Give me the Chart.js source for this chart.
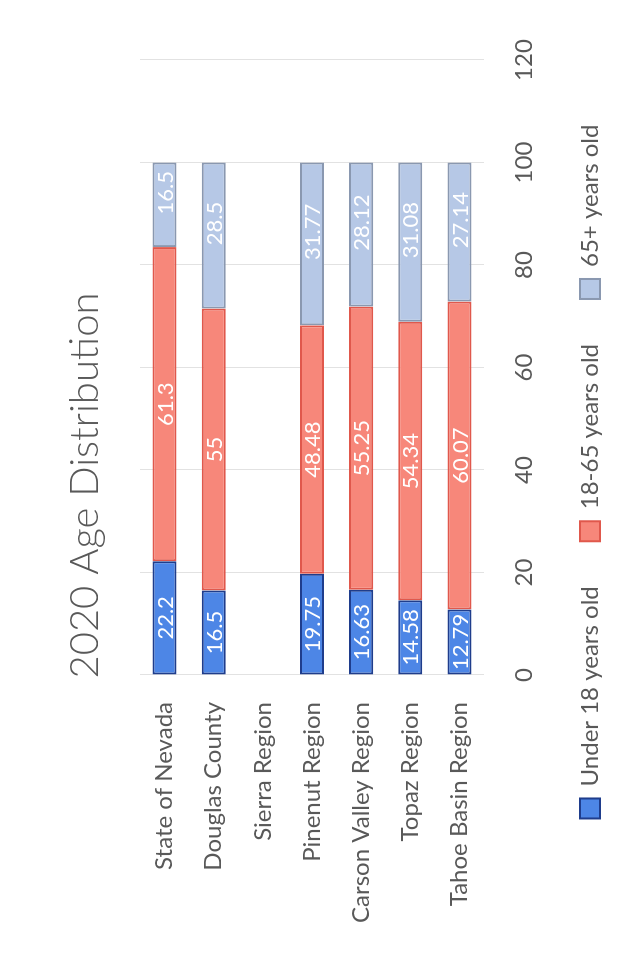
<!doctype html>
<html lang="en">

<head>
    <meta charset="utf-8">
    <title>2020 Age Distribution</title>
    <script src="https://cdn.jsdelivr.net/npm/chart.js"></script>
    <style>
        html, body { margin: 0; padding: 0; background: #fff; overflow: hidden; }
        /* chart is laid out landscape, then turned to read bottom-to-top */
        #frame {
            position: absolute; left: 0; top: 0;
            width: 963px; height: 636px;
            transform-origin: 0 0;
            transform: translate(0, 963px) rotate(-90deg);
        }
    </style>
</head>

<body>
    <div id="frame">
        <canvas id="ageChart" width="963" height="636"></canvas>
    </div>

    <script>
        const regions = ['State of Nevada', 'Douglas County', 'Sierra Region', 'Pinenut Region',
            'Carson Valley Region', 'Topaz Region', 'Tahoe Basin Region'];
        const under18 = [22.2, 16.5, null, 19.75, 16.63, 14.58, 12.79];
        const age18to65 = [61.3, 55, null, 48.48, 55.25, 54.34, 60.07];
        const age65plus = [16.5, 28.5, null, 31.77, 28.12, 31.08, 27.14];
        const seriesNames = ['Under 18 years old', '18-65 years old', '65+ years old'];
        const tickValues = [0, 20, 40, 60, 80, 100, 120];

        const grey = '#595959';
        const font = 'Lato, "Open Sans", sans-serif';

        // white value text inside each segment (65+ text sits a bit toward the bar end)
        const segmentLabels = {
            id: 'segmentLabels',
            afterDatasetsDraw(chart) {
                const ctx = chart.ctx;
                ctx.save();
                ctx.fillStyle = '#ffffff';
                ctx.font = '22px ' + font;
                ctx.textAlign = 'center';
                ctx.textBaseline = 'middle';
                chart.data.datasets.forEach((ds, i) => {
                    const nudge = i === 2 ? 12 : 0;
                    chart.getDatasetMeta(i).data.forEach((bar, j) => {
                        const v = ds.data[j];
                        if (v === null || v === undefined) return;
                        ctx.fillText(String(v), (bar.x + bar.base) / 2 + nudge, bar.y + 1);
                    });
                });
                ctx.restore();
            }
        };

        // title and legend are centred on the whole canvas, not on the padded box
        const blockShift = {
            id: 'blockShift',
            afterLayout(chart) {
                chart.titleBlock.left += 26;
                chart.titleBlock.right += 26;
                chart.legend.left += 40;
                chart.legend.right += 40;
            }
        };

        new Chart(document.getElementById('ageChart').getContext('2d'), {
            type: 'bar',
            data: {
                labels: regions,
                datasets: [{
                    label: seriesNames[0],
                    data: under18,
                    backgroundColor: '#4d86e6',
                    borderColor: '#1f3d8c'
                }, {
                    label: seriesNames[1],
                    data: age18to65,
                    backgroundColor: '#f7877a',
                    borderColor: '#e0584c'
                }, {
                    label: seriesNames[2],
                    data: age65plus,
                    backgroundColor: '#b6c8e6',
                    borderColor: '#8a98b0'
                }]
            },
            options: {
                indexAxis: 'y',
                responsive: false,
                animation: false,
                datasets: {
                    bar: {
                        borderWidth: 2,
                        borderSkipped: false,
                        barPercentage: 0.5,
                        categoryPercentage: 0.98
                    }
                },
                layout: {
                    padding: { top: 0, left: 0, right: 60, bottom: 24 }
                },
                scales: {
                    x: {
                        stacked: true,
                        min: 0,
                        max: 120,
                        afterBuildTicks(scale) {
                            scale.ticks = tickValues.map(v => ({ value: v }));
                        },
                        afterFit(scale) { scale.height = 49; },
                        grid: { color: '#e2e2e2', lineWidth: 1, drawTicks: false },
                        border: { display: false },
                        ticks: {
                            padding: 26,
                            color: grey,
                            font: { family: font, size: 24 }
                        }
                    },
                    y: {
                        stacked: true,
                        afterFit(scale) { scale.width = 288; },
                        grid: { display: false, drawTicks: false },
                        border: { display: false },
                        ticks: {
                            padding: 27,
                            color: grey,
                            font: { family: font, size: 24 }
                        }
                    }
                },
                plugins: {
                    title: {
                        display: true,
                        text: '2020 Age Distribution',
                        color: grey,
                        font: { family: font, size: 40, weight: '300', lineHeight: 1.2 },
                        padding: { top: 61, bottom: 31 }
                    },
                    legend: {
                        position: 'bottom',
                        labels: {
                            color: grey,
                            boxWidth: 20,
                            boxHeight: 20,
                            padding: 45,
                            font: { family: font, size: 24 }
                        }
                    },
                    tooltip: { enabled: false }
                }
            },
            plugins: [segmentLabels, blockShift]
        });
    </script>
</body>

</html>
